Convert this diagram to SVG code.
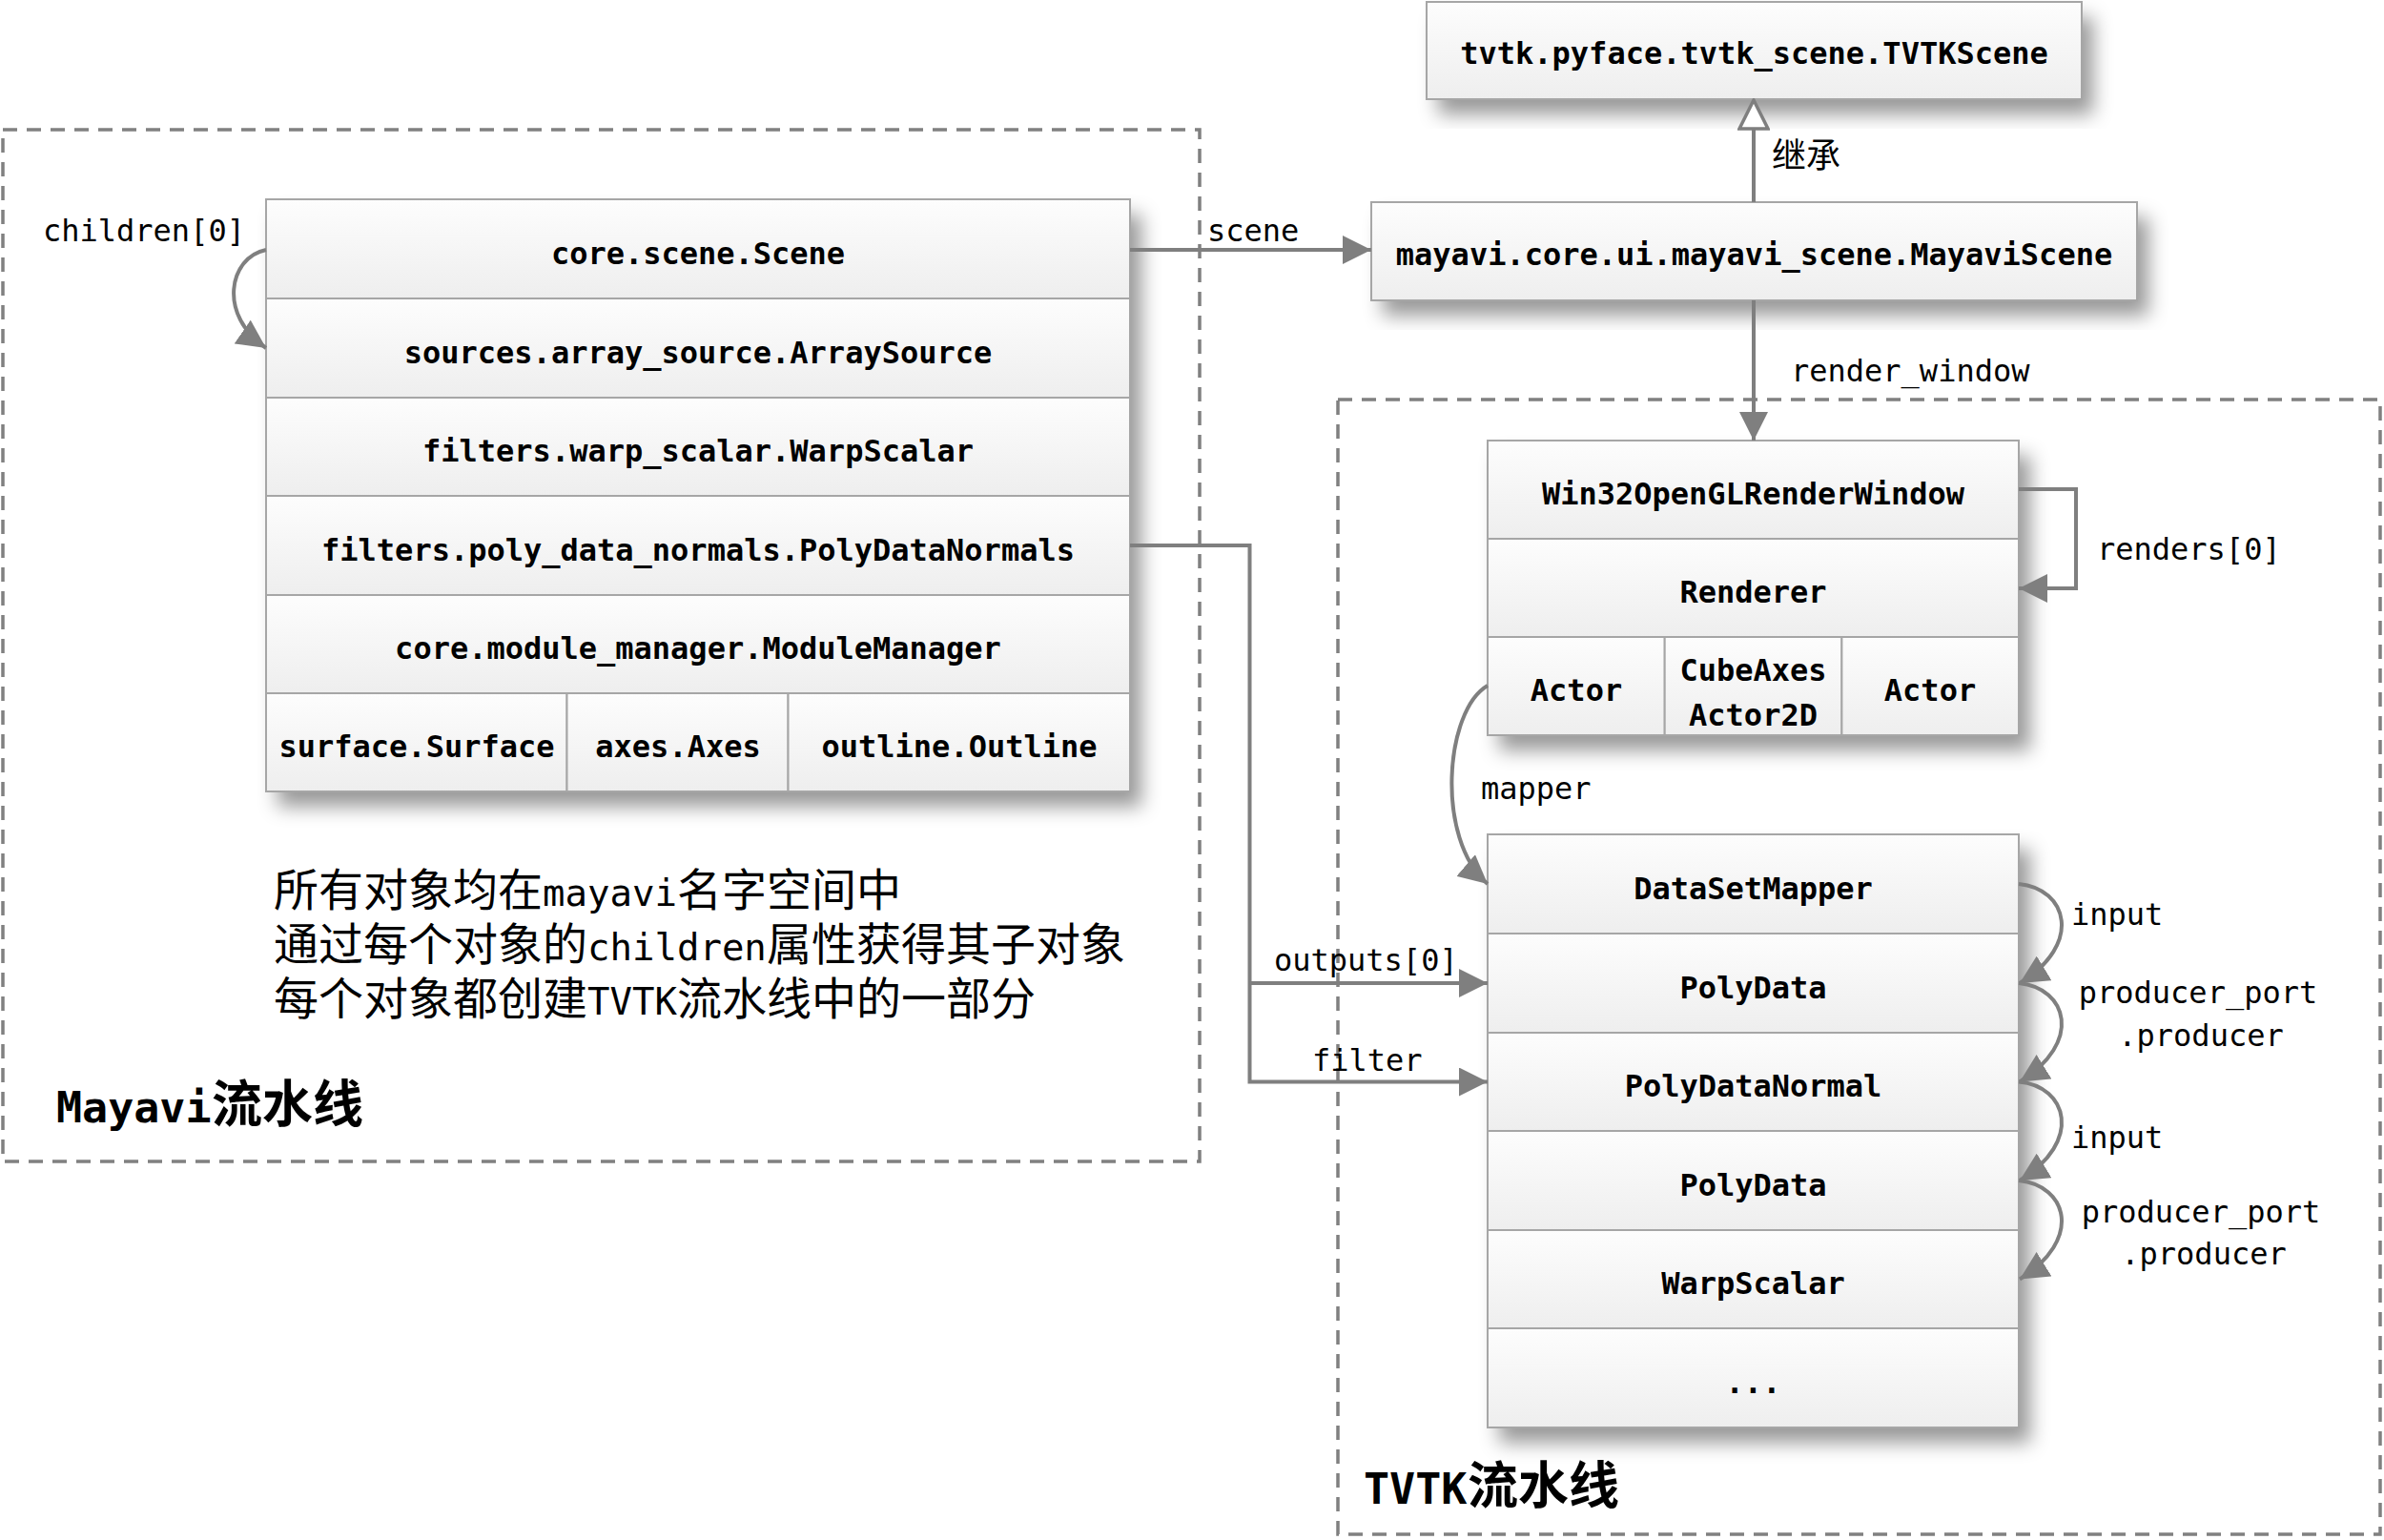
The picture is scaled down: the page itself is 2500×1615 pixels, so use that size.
<svg xmlns="http://www.w3.org/2000/svg" width="2500" height="1615" viewBox="0 0 2500 1615">
<defs>
<linearGradient id="cell" x1="0" y1="0" x2="0" y2="1">
<stop offset="0" stop-color="#fdfdfd"/>
<stop offset="1" stop-color="#eeeeee"/>
</linearGradient>
<filter id="shadow" x="-10%" y="-10%" width="130%" height="140%">
<feDropShadow dx="12" dy="16" stdDeviation="10" flood-color="#000" flood-opacity="0.4"/>
</filter>
<marker id="arrow" viewBox="0 0 30 30" refX="30" refY="15" markerWidth="30" markerHeight="30" markerUnits="userSpaceOnUse" orient="auto">
<path d="M0,0 L30,15 L0,30 z" fill="#7f7f7f"/>
</marker>
<marker id="hollow" viewBox="0 0 34 34" refX="32" refY="17" markerWidth="34" markerHeight="34" markerUnits="userSpaceOnUse" orient="auto">
<path d="M2,2 L32,17 L2,32 z" fill="#ffffff" stroke="#7f7f7f" stroke-width="3.5"/>
</marker>
</defs>
<style>
.cell{fill:url(#cell);stroke:#a6a6a6;stroke-width:2}
.bg{fill:#f4f4f4;filter:url(#shadow)}
.nt{font-family:"DejaVu Sans Mono","Liberation Mono",monospace;font-size:32px;font-weight:bold;fill:#000;text-anchor:middle}
.lb{font-family:"DejaVu Sans Mono","Liberation Mono",monospace;font-size:32px;fill:#000}
.cn{fill:none;stroke:#7f7f7f;stroke-width:4}
.dash{fill:none;stroke:#808080;stroke-width:3.5;stroke-dasharray:15 10}
.cjk{font-family:"Noto Sans CJK SC",sans-serif;fill:#000}
.mono{font-family:"DejaVu Sans Mono","Liberation Mono",monospace;fill:#000}
.note{font-size:47px}
.notem{font-size:39px}
</style>
<rect width="2500" height="1615" fill="#ffffff"/>

<g id="groups">
<rect id="mayavi-pipeline-box" class="dash" x="3" y="136" width="1255" height="1082"/>
<rect id="tvtk-pipeline-box" class="dash" x="1403" y="419" width="1093" height="1190"/>
<text class="mono" x="59" y="1177" font-size="45" font-weight="bold">Mayavi</text>
<text class="cjk" x="222" y="1177" font-size="53" font-weight="bold">流水线</text>
<text class="mono" x="1430" y="1577" font-size="45" font-weight="bold">TVTK</text>
<text class="cjk" x="1539" y="1577" font-size="53" font-weight="bold">流水线</text>
<text class="cjk note" x="287" y="950">所有对象均在</text>
<text class="mono notem" x="569" y="950">mayavi</text>
<text class="cjk note" x="710" y="950">名字空间中</text>
<text class="cjk note" x="287" y="1007">通过每个对象的</text>
<text class="mono notem" x="616" y="1007">children</text>
<text class="cjk note" x="804" y="1007">属性获得其子对象</text>
<text class="cjk note" x="287" y="1064">每个对象都创建</text>
<text class="mono notem" x="616" y="1064">TVTK</text>
<text class="cjk note" x="710" y="1064">流水线中的一部分</text>
</g>

<g id="mayavi-stack">
<rect class="bg" x="279" y="209" width="906" height="621"/>
<g id="scene-node"><rect class="cell" x="279" y="209" width="906" height="104"/><text class="nt" x="732" y="277">core.scene.Scene</text></g>
<g id="array-source"><rect class="cell" x="279" y="313" width="906" height="104"/><text class="nt" x="732" y="381">sources.array_source.ArraySource</text></g>
<g id="warp-scalar"><rect class="cell" x="279" y="417" width="906" height="103"/><text class="nt" x="732" y="484">filters.warp_scalar.WarpScalar</text></g>
<g id="poly-data-normals"><rect class="cell" x="279" y="520" width="906" height="104"/><text class="nt" x="732" y="588">filters.poly_data_normals.PolyDataNormals</text></g>
<g id="module-manager"><rect class="cell" x="279" y="624" width="906" height="103"/><text class="nt" x="732" y="691">core.module_manager.ModuleManager</text></g>
<g id="surface"><rect class="cell" x="279" y="727" width="315.5" height="103"/><text class="nt" x="437" y="794">surface.Surface</text></g>
<g id="axes"><rect class="cell" x="594.5" y="727" width="232" height="103"/><text class="nt" x="711" y="794">axes.Axes</text></g>
<g id="outline"><rect class="cell" x="826.5" y="727" width="358.5" height="103"/><text class="nt" x="1006" y="794">outline.Outline</text></g>
</g>

<g id="tvtk-scene">
<rect class="bg" x="1496" y="2" width="687" height="102"/>
<rect class="cell" x="1496" y="2" width="687" height="102"/>
<text class="nt" x="1839.5" y="67">tvtk.pyface.tvtk_scene.TVTKScene</text>
</g>

<g id="mayavi-scene">
<rect class="bg" x="1438" y="212" width="803" height="103"/>
<rect class="cell" x="1438" y="212" width="803" height="103"/>
<text class="nt" x="1839.5" y="278" font-size="32.5">mayavi.core.ui.mayavi_scene.MayaviScene</text>
</g>

<g id="render-stack">
<rect class="bg" x="1560" y="462" width="557" height="309"/>
<g id="render-window"><rect class="cell" x="1560" y="462" width="557" height="103"/><text class="nt" x="1838.5" y="529">Win32OpenGLRenderWindow</text></g>
<g id="renderer"><rect class="cell" x="1560" y="565" width="557" height="103"/><text class="nt" x="1838.5" y="632">Renderer</text></g>
<g id="actor-1"><rect class="cell" x="1560" y="668" width="185.7" height="103"/><text class="nt" x="1653" y="735">Actor</text></g>
<g id="cube-axes"><rect class="cell" x="1745.7" y="668" width="185.7" height="103"/><text class="nt" x="1838.5" y="714">CubeAxes</text><text class="nt" x="1838.5" y="761">Actor2D</text></g>
<g id="actor-2"><rect class="cell" x="1931.4" y="668" width="185.6" height="103"/><text class="nt" x="2024" y="735">Actor</text></g>
</g>

<g id="data-stack">
<rect class="bg" x="1560" y="875" width="557" height="622"/>
<g id="dataset-mapper"><rect class="cell" x="1560" y="875" width="557" height="104"/><text class="nt" x="1838.5" y="943">DataSetMapper</text></g>
<g id="polydata-1"><rect class="cell" x="1560" y="979" width="557" height="104"/><text class="nt" x="1838.5" y="1047">PolyData</text></g>
<g id="polydata-normal"><rect class="cell" x="1560" y="1083" width="557" height="103"/><text class="nt" x="1838.5" y="1150">PolyDataNormal</text></g>
<g id="polydata-2"><rect class="cell" x="1560" y="1186" width="557" height="104"/><text class="nt" x="1838.5" y="1254">PolyData</text></g>
<g id="warpscalar"><rect class="cell" x="1560" y="1290" width="557" height="103"/><text class="nt" x="1838.5" y="1357">WarpScalar</text></g>
<g id="more"><rect class="cell" x="1560" y="1393" width="557" height="104"/><text class="nt" x="1838.5" y="1461">...</text></g>
</g>

<g id="connectors">
<path class="cn" d="M279,262 C240,270 228,330 279,365" marker-end="url(#arrow)"/>
<text class="lb" x="45" y="253">children[0]</text>

<path class="cn" d="M1185,262 L1438,262" marker-end="url(#arrow)"/>
<text class="lb" x="1266" y="253">scene</text>

<path class="cn" d="M1839,212 L1839,105" marker-end="url(#hollow)"/>
<text class="cjk" x="1858" y="176" font-size="36">继承</text>

<path class="cn" d="M1839,315 L1839,462" marker-end="url(#arrow)"/>
<text class="lb" x="1878" y="400">render_window</text>

<path class="cn" d="M2117,513 L2177,513 L2177,617 L2117,617" marker-end="url(#arrow)"/>
<text class="lb" x="2199" y="587">renders[0]</text>

<path class="cn" d="M1560,719 C1515,745 1505,880 1560,927" marker-end="url(#arrow)"/>
<text class="lb" x="1553" y="838">mapper</text>

<path class="cn" d="M1185,572 L1310.5,572 L1310.5,1134.5 L1560,1134.5" marker-end="url(#arrow)"/>
<path class="cn" d="M1310.5,1031 L1560,1031" marker-end="url(#arrow)"/>
<text class="lb" x="1336" y="1018">outputs[0]</text>
<text class="lb" x="1376" y="1123">filter</text>

<path class="cn" d="M2117,927 C2168,932 2185,990 2118,1031" marker-end="url(#arrow)"/>
<path class="cn" d="M2117,1031 C2168,1036 2185,1093 2118,1134.5" marker-end="url(#arrow)"/>
<path class="cn" d="M2117,1134.5 C2168,1139 2185,1197 2118,1238" marker-end="url(#arrow)"/>
<path class="cn" d="M2117,1238 C2168,1243 2185,1300 2118,1341.5" marker-end="url(#arrow)"/>
<text class="lb" x="2172" y="970">input</text>
<text class="lb" x="2305" y="1052" text-anchor="middle">producer_port</text>
<text class="lb" x="2308" y="1097" text-anchor="middle">.producer</text>
<text class="lb" x="2172" y="1204">input</text>
<text class="lb" x="2308" y="1282" text-anchor="middle">producer_port</text>
<text class="lb" x="2311" y="1326" text-anchor="middle">.producer</text>
</g>
</svg>
